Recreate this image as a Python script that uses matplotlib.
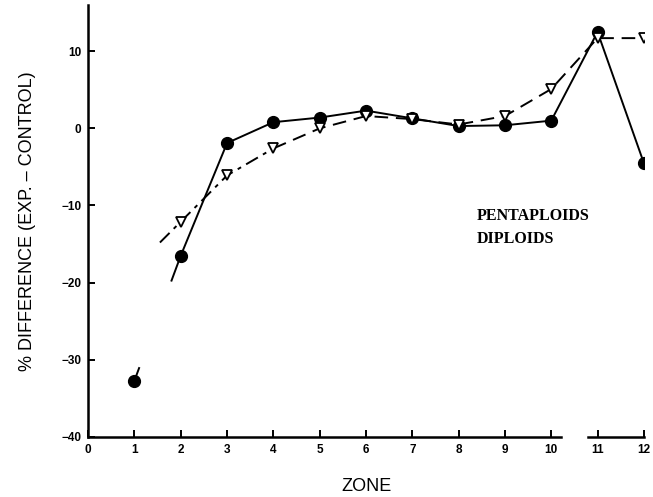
import numpy as np
import matplotlib.pyplot as plt

zones = np.arange(1, 13)
penta = [-32.7, -16.5, -1.9, 0.8, 1.4, 2.3, 1.3, 0.3, 0.4, 1.0, 12.5, -4.5]
dip_zones = np.arange(2, 13)
dip = [-12.1, -6.1, -2.6, 0.0, 1.6, 1.2, 0.5, 1.6, 5.1, 11.7, 11.7]

plt.rcParams['font.family'] = ['Liberation Sans', 'DejaVu Sans']

fig = plt.figure(figsize=(6.53, 4.97), dpi=100)
ax = fig.add_axes([0.135, 0.121, 0.851, 0.869])

# circles: line 1 -> 2 is broken in the middle, only short pieces near the points
x1, y1, x2, y2 = zones[0], penta[0], zones[1], penta[1]
for a, b in [(0.0, 0.1), (0.8, 1.0)]:
    ax.plot([x1 + a * (x2 - x1), x1 + b * (x2 - x1)],
            [y1 + a * (y2 - y1), y1 + b * (y2 - y1)], color='black', lw=1.4)
ax.plot(zones[1:], penta[1:], color='black', lw=1.4)
ax.plot(zones, penta, 'o', color='black', ms=8.5)

# triangles: line runs a little past the first point
k = 0.45
x_start = dip_zones[0] - k * (dip_zones[1] - dip_zones[0])
y_start = dip[0] - k * (dip[1] - dip[0])
ax.plot([x_start, dip_zones[0]], [y_start, dip[0]], color='black', lw=1.4,
        linestyle=(0, (7, 3, 2, 3)))
ax.plot(dip_zones[:3], dip[:3], color='black', lw=1.4, linestyle=(0, (7, 3, 2, 3)))
ax.plot(dip_zones[2:], dip[2:], color='black', lw=1.4, linestyle=(0, (7, 4)))
ax.plot(dip_zones, dip, 'v', color='black', mfc='white', mew=1.3, ms=7)

ax.set_xlim(0, 12)
ax.set_ylim(-40, 16)
ax.set_xticks(range(0, 13))
ax.set_yticks([-40, -30, -20, -10, 0, 10])
ax.tick_params(direction='in', length=5, width=1.4, labelsize=8.5, pad=5)
for lab in ax.get_xticklabels() + ax.get_yticklabels():
    lab.set_fontweight('bold')

for s in ['top', 'right', 'bottom']:
    ax.spines[s].set_visible(False)
ax.spines['left'].set_linewidth(1.8)
# broken x axis between 10 and 11
ax.plot([0, 10.2], [-40, -40], color='black', lw=1.8, clip_on=False)
ax.plot([10.8, 12], [-40, -40], color='black', lw=1.8, clip_on=False)

ax.set_xlabel('ZONE', fontsize=13, labelpad=16)
ax.set_ylabel('% DIFFERENCE (EXP. \u2013 CONTROL)', fontsize=13, labelpad=18)

ax.text(8.4, -11.4, 'PENTAPLOIDS', family=['Liberation Serif'], fontweight='bold',
        fontsize=11.5, va='center')
ax.text(8.4, -14.3, 'DIPLOIDS', family=['Liberation Serif'], fontweight='bold',
        fontsize=11.5, va='center')

fig.savefig('out.png', dpi=100)
